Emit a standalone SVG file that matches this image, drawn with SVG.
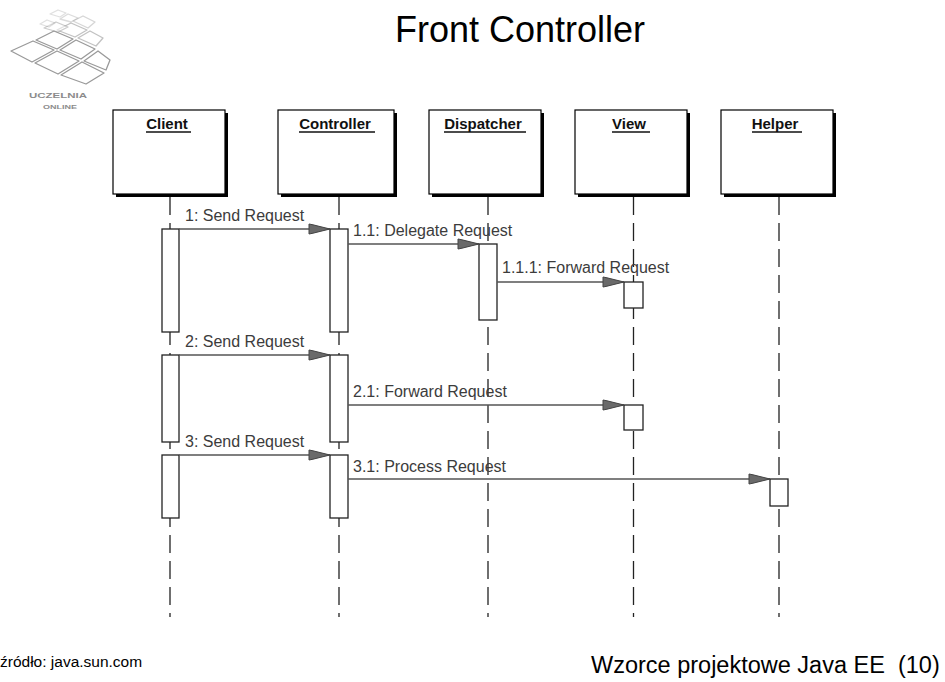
<svg xmlns="http://www.w3.org/2000/svg" width="945" height="682" viewBox="0 0 945 682">
<style>
  .box { fill: #fff; stroke: #000; stroke-width: 1.2; }
  .shadow { fill: #000; }
  .hdr { font-family: "Liberation Sans", Arial, sans-serif; font-size: 15px; font-weight: bold; fill: #111; text-anchor: middle; }
  .ul { stroke: #111; stroke-width: 1.4; }
  .life { stroke: #222; stroke-width: 1.3; stroke-dasharray: 18 8; fill: none; }
  .act { fill: #fff; stroke: #222; stroke-width: 1.3; }
  .msg { stroke: #555; stroke-width: 1.3; fill: none; marker-end: url(#ah); }
  .lbl { font-family: "Liberation Sans", Arial, sans-serif; font-size: 16px; fill: #3c3c3c; }
  .title { font-family: "Liberation Sans", Arial, sans-serif; font-size: 36px; fill: #000; text-anchor: middle; }
  .foot { font-family: "Liberation Sans", Arial, sans-serif; fill: #000; }
  .grid { stroke: #9a9a9a; stroke-width: 1.3; fill: #fff; stroke-linejoin: round; }
  .logotxt { font-family: "Liberation Sans", Arial, sans-serif; font-weight: bold; fill: #8c8c8c; }
</style>
<defs>
  <marker id="ah" markerUnits="userSpaceOnUse" viewBox="-22 -6 24 12" refX="0" refY="0" markerWidth="24" markerHeight="12" orient="auto">
    <path d="M0,0 L-9,-2.2 L-17,-4.2 L-21,-5 L-21,5 L-17,4.2 L-9,2.2 Z" fill="#6a6a6a" stroke="#444" stroke-width="1"/>
  </marker>
</defs>
<rect width="945" height="682" fill="#fff"/>

<g id="logo">
  <g class="grid">
    <polygon points="11,51 33,41 54,50 32,62" />
    <polygon points="35,63 57,51 79,61 58,74" />
    <polygon points="61,75 82,62 104,73 86,84" />
    <polygon points="36,40 54,31 73,39 57,49" />
    <polygon points="60,50 76,40 95,49 81,59" />
    <polygon points="84,61 98,51 110,60 106,70" />
    <polygon points="57,30 71,23 87,30 75,37" opacity="0.6"/>
    <polygon points="78,38 90,31 103,38 96,46" opacity="0.6"/>
    <polygon points="44,28 56,22 68,27 58,32" opacity="0.5"/>
    <polygon points="73,21 83,16 95,22 88,28" opacity="0.4"/>
    <polygon points="60,19 68,14 78,18 71,22" opacity="0.35"/>
    <polygon points="40,24 47,20 55,23 49,27" opacity="0.3"/>
    <polygon points="50,14 58,10 66,13 60,17" opacity="0.3"/>
  </g>
  <text class="logotxt" x="29" y="98" font-size="7" textLength="58" lengthAdjust="spacingAndGlyphs">UCZELNIA</text>
  <text class="logotxt" x="43" y="109" font-size="6" textLength="34" lengthAdjust="spacingAndGlyphs">ONLINE</text>
</g>

<text id="title" class="title" x="520" y="42">Front Controller</text>

<g id="lifelines">
  <line class="life" x1="170" y1="197" x2="170" y2="617"/>
  <line class="life" x1="339" y1="197" x2="339" y2="617"/>
  <line class="life" x1="488" y1="197" x2="488" y2="617"/>
  <line class="life" x1="633.5" y1="197" x2="633.5" y2="617"/>
  <line class="life" x1="779" y1="197" x2="779" y2="617"/>
</g>

<g id="client">
  <rect class="shadow" x="116" y="113" width="112" height="84"/>
  <rect class="box" x="113" y="110" width="112" height="84"/>
  <text class="hdr" x="167" y="129">Client</text>
  <line class="ul" x1="146" y1="132" x2="191" y2="132"/>
  <rect class="act" x="162" y="229" width="17" height="103"/>
  <rect class="act" x="162" y="355" width="17" height="87"/>
  <rect class="act" x="162" y="455" width="17" height="63"/>
</g>

<g id="controller">
  <rect class="shadow" x="281" y="113" width="116" height="84"/>
  <rect class="box" x="278" y="110" width="116" height="84"/>
  <text class="hdr" x="335" y="129">Controller</text>
  <line class="ul" x1="299" y1="132" x2="375" y2="132"/>
  <rect class="act" x="330" y="229" width="18" height="103"/>
  <rect class="act" x="330" y="355" width="18" height="87"/>
  <rect class="act" x="330" y="455" width="18" height="63"/>
</g>

<g id="dispatcher">
  <rect class="shadow" x="432" y="113" width="112" height="84"/>
  <rect class="box" x="429" y="110" width="112" height="84"/>
  <text class="hdr" x="483" y="129">Dispatcher</text>
  <line class="ul" x1="444" y1="132" x2="526" y2="132"/>
  <rect class="act" x="479" y="244" width="18" height="76"/>
</g>

<g id="view">
  <rect class="shadow" x="578" y="113" width="112" height="84"/>
  <rect class="box" x="575" y="110" width="112" height="84"/>
  <text class="hdr" x="629" y="129">View</text>
  <line class="ul" x1="612" y1="132" x2="650" y2="132"/>
  <rect class="act" x="624" y="282" width="19" height="26"/>
  <rect class="act" x="624" y="405" width="19" height="25"/>
</g>

<g id="helper">
  <rect class="shadow" x="724" y="113" width="112" height="84"/>
  <rect class="box" x="721" y="110" width="112" height="84"/>
  <text class="hdr" x="775" y="129">Helper</text>
  <line class="ul" x1="752" y1="132" x2="802" y2="132"/>
  <rect class="act" x="770" y="479" width="18" height="27"/>
</g>

<g id="connectors">
  <line class="msg" x1="179" y1="229" x2="330" y2="229"/>
  <line class="msg" x1="348" y1="244" x2="479" y2="244"/>
  <line class="msg" x1="497" y1="282" x2="624" y2="282"/>
  <line class="msg" x1="179" y1="355" x2="330" y2="355"/>
  <line class="msg" x1="348" y1="405" x2="624" y2="405"/>
  <line class="msg" x1="179" y1="455" x2="330" y2="455"/>
  <line class="msg" x1="348" y1="479" x2="770" y2="479"/>
  <text class="lbl" x="185" y="221">1: Send Request</text>
  <text class="lbl" x="353" y="236">1.1: Delegate Request</text>
  <text class="lbl" x="502" y="273">1.1.1: Forward Request</text>
  <text class="lbl" x="185" y="347">2: Send Request</text>
  <text class="lbl" x="353" y="397">2.1: Forward Request</text>
  <text class="lbl" x="185" y="447">3: Send Request</text>
  <text class="lbl" x="353" y="472">3.1: Process Request</text>
</g>

<text class="foot" x="0" y="667" font-size="15.5">źródło: java.sun.com</text>
<text class="foot" x="591" y="673" font-size="23.5" xml:space="preserve">Wzorce projektowe Java EE  (10)</text>
</svg>
